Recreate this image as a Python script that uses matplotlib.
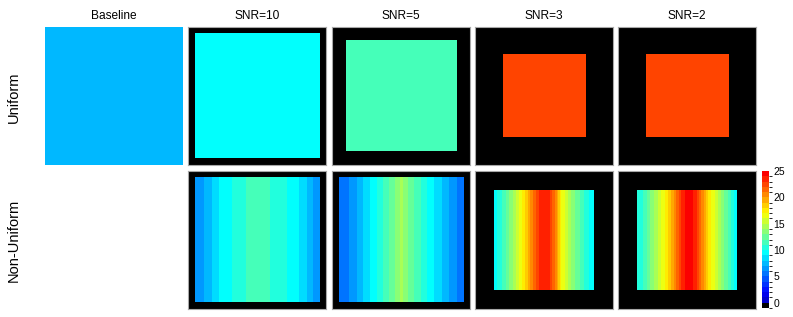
import numpy as np
import matplotlib
matplotlib.use("Agg")
from matplotlib import pyplot as plt
from matplotlib.colors import ListedColormap, LinearSegmentedColormap, BoundaryNorm
from matplotlib.cm import ScalarMappable

plt.rcParams['font.family'] = ['Liberation Sans', 'DejaVu Sans']

# data
colNames = ["Baseline", "SNR=10", "SNR=5", "SNR=3", "SNR=2"]
rowNames = ["Uniform", "Non-Uniform"]

# uniform case: one value per panel, and the width of the empty (black) rim
uniformVal = [7.5, 9.5, 11.5, 22.5, 22.5]
uniformRim = [0.0, 0.048, 0.10, 0.20, 0.20]

# non-uniform case: value across x (columns), baseline has none
profSnr10 = [6.6, 7.63, 9.07, 9.71, 10.44, 11.15, 11.6, 11.14, 10.6, 10.04, 9.31, 8.2, 6.75]
profSnr5 = [5.5, 6.23, 7.5, 8.77, 9.97, 11.31, 12.72, 14.27, 12.66, 11.46, 10.13, 8.93, 7.86, 6.66, 5.62]
profSnr3 = [9.9, 11.3, 12.8, 14.6, 16.5, 18.5, 20.8, 22.9, 23.8, 23.2, 20.5, 16.9, 15.2, 13.4, 12.2, 10.8, 9.5]
profSnr2 = [10.0, 11.7, 13.5, 15.0, 16.6, 18.4, 20.5, 23.0, 24.7, 24.2, 22.3, 19.5, 17.0, 15.6, 13.6, 12.0, 9.9]
nonUniformProf = [None, profSnr10, profSnr5, profSnr3, profSnr2]
nonUniformRim = [None, 0.048, 0.048, 0.14, 0.14]

cbTicks = [0, 5, 10, 15, 20, 25]

# colour map: black for "nothing", then 25 steps of a matlab style jet
jet = LinearSegmentedColormap.from_list(
    "mjet", [(0, (0, 0, 0.5)), (0.125, (0, 0, 1)), (0.375, (0, 1, 1)),
             (0.625, (1, 1, 0)), (0.875, (1, 0, 0)), (1, (0.5, 0, 0))])
levelColors = [jet(0.075 + k / 24 * 0.8) for k in range(25)]
cmap = ListedColormap([(0, 0, 0, 1)] + levelColors)
norm = BoundaryNorm(np.arange(-1, 26), cmap.N)

W, H = 793, 317
fig = plt.figure(figsize=(W / 100, H / 100), dpi=100)

colX = [45, 188, 332, 475, 618]
rowY = [27, 171]
pw, ph = 138, 138


def makeAx(x, y, w, h):
    return fig.add_axes([x / W, 1 - (y + h) / H, w / W, h / H])


def drawPanel(ax, data, rim, black):
    if black:
        ax.set_facecolor("black")
    ax.imshow(data, cmap=cmap, norm=norm, extent=(rim, 1 - rim, rim, 1 - rim),
              interpolation="bilinear", interpolation_stage="data", aspect="auto")
    ax.set_xlim(0, 1)
    ax.set_ylim(0, 1)
    ax.set_xticks([])
    ax.set_yticks([])
    for s in ax.spines.values():
        if black:
            s.set_color("#a8a8a8")
            s.set_linewidth(0.8)
        else:
            s.set_visible(False)


for i in range(5):
    ax = makeAx(colX[i], rowY[0], pw, ph)
    drawPanel(ax, np.array([[uniformVal[i]]]), uniformRim[i], i > 0)
    ax.set_title(colNames[i], fontsize=8.6, pad=6)
    if nonUniformProf[i] is not None:
        ax2 = makeAx(colX[i], rowY[1], pw, ph)
        prof = np.array(nonUniformProf[i])
        drawPanel(ax2, np.tile(prof, (2, 1)), nonUniformRim[i], True)

fig.text(14 / W, 1 - 97 / H, rowNames[0], rotation=90, ha="center", va="center", fontsize=10.5)
fig.text(14 / W, 1 - 240 / H, rowNames[1], rotation=90, ha="center", va="center", fontsize=10.5)

cax = makeAx(762, 171, 7, 137)
cb = fig.colorbar(ScalarMappable(norm=norm, cmap=cmap), cax=cax, ticks=cbTicks)
cb.outline.set_visible(False)
cax.tick_params(length=0, pad=3, labelsize=7.5)

fig.savefig("out.png", dpi=100)
